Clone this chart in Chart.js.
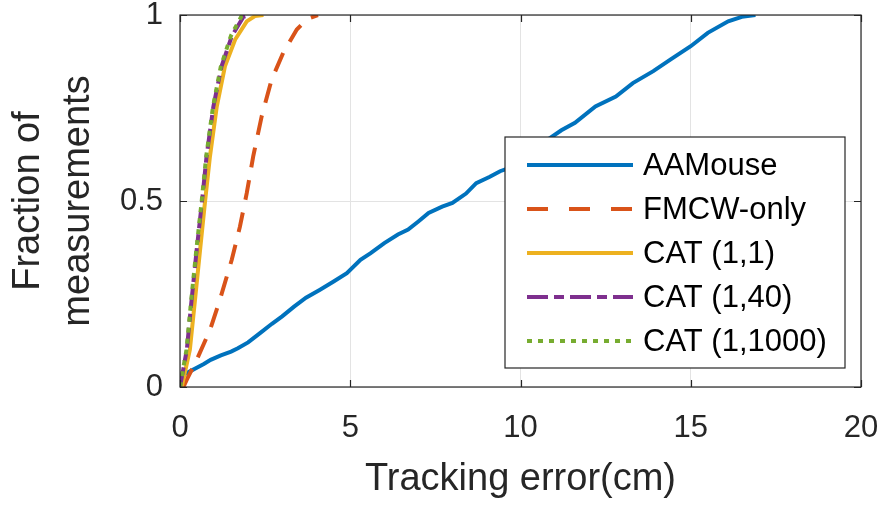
<!DOCTYPE html>
<html>
<head>
<meta charset="utf-8">
<script src="https://cdn.jsdelivr.net/npm/chart.js@4.4.1/dist/chart.umd.min.js"></script>
<style>
html, body { margin: 0; padding: 0; background: #fff; }
</style>
</head>
<body>
<canvas id="cdf" width="882" height="505"></canvas>
<script>
// series names, in legend order
const seriesNames = ['AAMouse', 'FMCW-only', 'CAT (1,1)', 'CAT (1,40)', 'CAT (1,1000)'];

// CDF points (x = tracking error in cm, y = fraction)
const aamouseX = [0, 0.05, 0.25, 0.45, 0.7, 0.9, 1.2, 1.5, 1.7, 2.0, 2.35, 2.7, 3.0, 3.35, 3.7, 4.1, 4.5, 4.9, 5.3, 5.6, 6.0, 6.4, 6.7, 7.0, 7.3, 7.7, 8.0, 8.4, 8.7, 9.1, 9.4, 9.7, 10.0, 10.4, 10.8, 11.2, 11.6, 12.2, 12.8, 13.3, 13.9, 14.4, 15.0, 15.5, 16.1, 16.5, 16.9];
const aamouseY = [0, 0.03, 0.04, 0.05, 0.062, 0.073, 0.085, 0.095, 0.104, 0.12, 0.145, 0.17, 0.19, 0.216, 0.24, 0.261, 0.283, 0.306, 0.342, 0.36, 0.387, 0.41, 0.423, 0.445, 0.468, 0.485, 0.495, 0.52, 0.548, 0.565, 0.58, 0.59, 0.602, 0.635, 0.665, 0.69, 0.71, 0.754, 0.781, 0.817, 0.849, 0.88, 0.916, 0.952, 0.983, 0.995, 1.0];

const fmcwX = [0.1, 0.2, 0.49, 0.88, 1.17, 1.52, 1.76, 1.96, 2.15, 2.4, 2.69, 3.03, 3.43, 3.75, 4.05];
const fmcwY = [0, 0.02, 0.073, 0.153, 0.234, 0.342, 0.431, 0.521, 0.62, 0.728, 0.826, 0.898, 0.961, 0.99, 1.0];

const cat11X = [0.05, 0.29, 0.44, 0.59, 0.73, 0.88, 1.08, 1.32, 1.62, 1.96, 2.2, 2.45];
const cat11Y = [0, 0.1, 0.234, 0.369, 0.494, 0.62, 0.754, 0.862, 0.934, 0.983, 0.997, 1.0];

const cat40X = [0, 0.2, 0.34, 0.49, 0.64, 0.78, 0.98, 1.22, 1.52, 1.86, 2.05];
const cat40Y = [0, 0.1, 0.234, 0.369, 0.494, 0.62, 0.754, 0.862, 0.943, 0.995, 1.0];

const cat1000X = [0, 0.19, 0.33, 0.48, 0.63, 0.77, 0.97, 1.2, 1.5, 1.8, 1.95];
const cat1000Y = [0, 0.1, 0.234, 0.369, 0.494, 0.62, 0.754, 0.862, 0.945, 0.996, 1.0];

// tick labels
const xTicks = [0, 5, 10, 15, 20];
const yTicks = [0, 0.5, 1];

const colors = ['#0072BD', '#D95319', '#EDB120', '#7E2F8E', '#77AC30'];
const dashes = [[], [20, 13], [], [20, 6, 8, 6], [5, 6]];
const legendDashes = [[], [21, 21], [], [21, 6, 10, 6], [5, 6]];
const FONT = "'Liberation Sans', Arial, Helvetica, sans-serif";
const INK = '#262626';

const zip = (xs, ys) => xs.map((x, i) => ({ x: x, y: ys[i] }));
const allX = [aamouseX, fmcwX, cat11X, cat40X, cat1000X];
const allY = [aamouseY, fmcwY, cat11Y, cat40Y, cat1000Y];

// box + inward ticks like matlab
const axesBox = {
  id: 'axesBox',
  afterDatasetsDraw(chart) {
    const { ctx, chartArea: a, scales } = chart;
    const len = 7;
    ctx.save();
    ctx.strokeStyle = INK;
    ctx.lineWidth = 1.2;
    ctx.beginPath();
    scales.x.ticks.forEach(t => {
      const px = Math.round(scales.x.getPixelForValue(t.value)) + 0.5;
      ctx.moveTo(px, a.bottom); ctx.lineTo(px, a.bottom - len);
      ctx.moveTo(px, a.top); ctx.lineTo(px, a.top + len);
    });
    scales.y.ticks.forEach(t => {
      const py = Math.round(scales.y.getPixelForValue(t.value)) + 0.5;
      ctx.moveTo(a.left, py); ctx.lineTo(a.left + len, py);
      ctx.moveTo(a.right, py); ctx.lineTo(a.right - len, py);
    });
    ctx.stroke();
    ctx.strokeRect(a.left, a.top, a.right - a.left, a.bottom - a.top);
    ctx.restore();
  }
};

// legend box inside lower right of the axes
const boxLegend = {
  id: 'boxLegend',
  afterDraw(chart) {
    const { ctx, chartArea: a } = chart;
    const w = 340, h = 231;
    const x0 = a.right - 16 - w, y0 = a.bottom - 19 - h;
    ctx.save();
    ctx.fillStyle = '#fff';
    ctx.fillRect(x0, y0, w, h);
    ctx.strokeStyle = INK;
    ctx.lineWidth = 1.2;
    ctx.strokeRect(x0, y0, w, h);
    ctx.font = '31px ' + FONT;
    ctx.textBaseline = 'middle';
    ctx.fillStyle = '#000';
    chart.data.datasets.forEach((ds, i) => {
      const y = y0 + 28 + i * 44;
      ctx.strokeStyle = ds.borderColor;
      ctx.lineWidth = 4;
      ctx.lineCap = 'butt';
      ctx.setLineDash(legendDashes[i]);
      ctx.beginPath();
      ctx.moveTo(x0 + 22, y);
      ctx.lineTo(x0 + 128, y);
      ctx.stroke();
      ctx.setLineDash([]);
      ctx.fillText(ds.label, x0 + 138, y + 1);
    });
    ctx.restore();
  }
};

const ctx = document.getElementById('cdf').getContext('2d');
new Chart(ctx, {
  type: 'line',
  data: {
    datasets: seriesNames.map((name, i) => ({
      label: name,
      data: zip(allX[i], allY[i]),
      borderColor: colors[i],
      backgroundColor: colors[i],
      borderWidth: 4,
      borderDash: dashes[i],
      borderCapStyle: 'butt',
      pointRadius: 0,
      tension: 0,
      fill: false,
      order: seriesNames.length - i
    }))
  },
  options: {
    responsive: false,
    devicePixelRatio: 1,
    animation: false,
    layout: { padding: { top: 15, right: 21, left: 0, bottom: 0 } },
    plugins: {
      legend: { display: false },
      tooltip: { enabled: false }
    },
    scales: {
      x: {
        type: 'linear',
        min: 0,
        max: 20,
        afterBuildTicks: s => { s.ticks = xTicks.map(v => ({ value: v })); },
        afterFit: s => { s.height = 118; s.paddingLeft = 0; s.paddingRight = 0; },
        grid: { color: '#e3e3e3', lineWidth: 1, drawTicks: false },
        border: { display: false },
        ticks: { font: { family: FONT, size: 31 }, color: INK, padding: 23, maxRotation: 0, callback: v => String(v) },
        title: {
          display: true,
          text: 'Tracking error(cm)',
          font: { family: FONT, size: 38 },
          color: INK,
          padding: { top: 0, bottom: 3 }
        }
      },
      y: {
        type: 'linear',
        min: 0,
        max: 1,
        afterBuildTicks: s => { s.ticks = yTicks.map(v => ({ value: v })); },
        afterFit: s => { s.width = 180; s.paddingTop = 0; s.paddingBottom = 0; },
        grid: { color: '#e3e3e3', lineWidth: 1, drawTicks: false },
        border: { display: false },
        ticks: { font: { family: FONT, size: 31 }, color: INK, padding: 17, callback: v => String(v) },
        title: {
          display: true,
          text: ['Fraction of', 'measurements'],
          font: { family: FONT, size: 38, lineHeight: 1.3 },
          color: INK,
          padding: { top: 4, bottom: 0 }
        }
      }
    }
  },
  plugins: [axesBox, boxLegend]
});
</script>
</body>
</html>
